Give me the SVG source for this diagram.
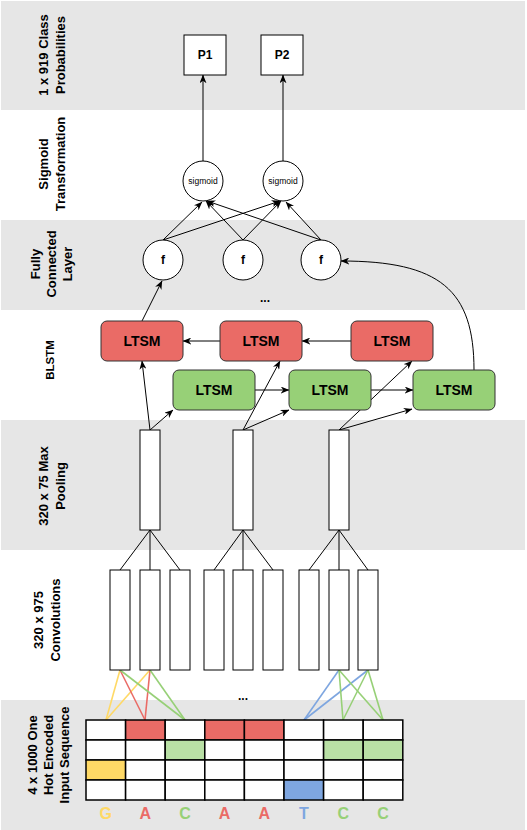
<svg xmlns="http://www.w3.org/2000/svg" width="527" height="830" viewBox="0 0 527 830">
<style>
text{font-family:"Liberation Sans",Arial,Helvetica,sans-serif;fill:#000}
.band{fill:#e6e6e6}
.lbl{font-size:13px;font-weight:bold;text-anchor:middle}
.box{fill:#fff;stroke:#000;stroke-width:1}
.red{fill:#ea6b66;stroke:#333;stroke-width:1}
.grn{fill:#97d077;stroke:#333;stroke-width:1}
.t14{font-size:14px;font-weight:bold;text-anchor:middle}
.t12{font-size:12px;font-weight:bold;text-anchor:middle}
.sg{font-size:8.5px;text-anchor:middle}
.ln{fill:none;stroke:#000;stroke-width:1}
.ar{fill:none;stroke:#000;stroke-width:1;marker-end:url(#arr)}
.cell{fill:#fff;stroke:#000;stroke-width:1.5}
.seq{font-size:16px;font-weight:bold;text-anchor:middle}
.cy{stroke:#ffd966}.cr{stroke:#ea6b66}.cg{stroke:#97d077}.cb{stroke:#7ea6e0}
.col{fill:none;stroke-width:1.6}
</style>
<defs>
<marker id="arr" viewBox="0 0 10 8" refX="9.5" refY="4" markerWidth="9" markerHeight="7" orient="auto" markerUnits="userSpaceOnUse">
<path d="M0,0 L10,4 L0,8 L3,4 Z" fill="#000"/>
</marker>
</defs>

<g id="bands">
<rect class="band" x="1" y="1" width="524" height="109"/>
<rect class="band" x="1" y="220" width="524" height="90"/>
<rect class="band" x="1" y="420" width="524" height="130"/>
<rect class="band" x="1" y="700" width="524" height="130"/>
</g>

<g id="labels">
<text class="lbl" transform="translate(0,55) rotate(-90)"><tspan x="0" y="48">1 x 919 Class</tspan><tspan x="0" y="65">Probabilities</tspan></text>
<text class="lbl" transform="translate(0,164) rotate(-90)"><tspan x="0" y="47.5">Sigmoid</tspan><tspan x="0" y="64.5">Transformation</tspan></text>
<text class="lbl" transform="translate(0,264) rotate(-90)"><tspan x="0" y="39.5">Fully</tspan><tspan x="0" y="55.5">Connected</tspan><tspan x="0" y="71.5">Layer</tspan></text>
<text class="lbl" transform="translate(0,360) rotate(-90)" style="font-size:11.5px"><tspan x="0" y="54">BLSTM</tspan></text>
<text class="lbl" transform="translate(0,486) rotate(-90)"><tspan x="0" y="48">320 x 75 Max</tspan><tspan x="0" y="64.5">Pooling</tspan></text>
<text class="lbl" transform="translate(0,620) rotate(-90)"><tspan x="0" y="43">320 x 975</tspan><tspan x="0" y="60">Convolutions</tspan></text>
<text class="lbl" transform="translate(0,755) rotate(-90)"><tspan x="0" y="37">4 x 1000 One</tspan><tspan x="0" y="53">Hot Encoded</tspan><tspan x="0" y="69">Input Sequence</tspan></text>
</g>

<g id="connectors">
<line class="ar" x1="203" y1="161" x2="203" y2="75"/>
<line class="ar" x1="283" y1="161" x2="283" y2="75"/>
<line class="ar" x1="163" y1="240" x2="202" y2="202"/>
<line class="ar" x1="163" y1="240" x2="280" y2="201"/>
<line class="ar" x1="243" y1="240" x2="206" y2="201"/>
<line class="ar" x1="243" y1="240" x2="281" y2="201"/>
<line class="ar" x1="321" y1="240" x2="207" y2="201"/>
<line class="ar" x1="321" y1="240" x2="286" y2="202"/>
<path class="ar" d="M474,370 C474,290 440,261 341,261"/>
<line class="ar" x1="142" y1="321" x2="162" y2="281"/>
<line class="ar" x1="220" y1="341" x2="183" y2="341"/>
<line class="ar" x1="351" y1="341" x2="302" y2="341"/>
<line class="ar" x1="255" y1="390" x2="289" y2="390"/>
<line class="ar" x1="371" y1="390" x2="413" y2="390"/>
<line class="ar" x1="150" y1="430" x2="142" y2="361"/>
<line class="ar" x1="150" y1="430" x2="173" y2="410"/>
<line class="ar" x1="243" y1="430" x2="280" y2="361"/>
<line class="ar" x1="243" y1="430" x2="289" y2="410"/>
<line class="ar" x1="339" y1="430" x2="412" y2="361"/>
<line class="ar" x1="339" y1="430" x2="412" y2="409"/>
<line class="ln" x1="150" y1="530" x2="120" y2="570"/>
<line class="ln" x1="150" y1="530" x2="150" y2="570"/>
<line class="ln" x1="150" y1="530" x2="180" y2="570"/>
<line class="ln" x1="243" y1="530" x2="214" y2="570"/>
<line class="ln" x1="243" y1="530" x2="243" y2="570"/>
<line class="ln" x1="243" y1="530" x2="273" y2="570"/>
<line class="ln" x1="339" y1="530" x2="309" y2="570"/>
<line class="ln" x1="339" y1="530" x2="339" y2="570"/>
<line class="ln" x1="339" y1="530" x2="368" y2="570"/>
<line class="col cy" x1="120" y1="670" x2="106" y2="720"/>
<line class="col cy" x1="150" y1="670" x2="106" y2="720"/>
<line class="col cr" x1="120" y1="670" x2="145" y2="720"/>
<line class="col cr" x1="150" y1="670" x2="145" y2="720"/>
<line class="col cg" x1="120" y1="670" x2="185" y2="720"/>
<line class="col cg" x1="150" y1="670" x2="185" y2="720"/>
<line class="col cb" x1="339" y1="670" x2="304" y2="720"/>
<line class="col cb" x1="368" y1="670" x2="304" y2="720"/>
<line class="col cg" x1="339" y1="670" x2="343" y2="720"/>
<line class="col cg" x1="368" y1="670" x2="343" y2="720"/>
<line class="col cg" x1="339" y1="670" x2="383" y2="720"/>
<line class="col cg" x1="368" y1="670" x2="383" y2="720"/>
</g>

<g id="P1"><rect class="box" x="184" y="35" width="42" height="40"/><text class="t12" x="205" y="59">P1</text></g>
<g id="P2"><rect class="box" x="261" y="35" width="42" height="40"/><text class="t12" x="282" y="59">P2</text></g>
<g id="sigmoid1"><circle class="box" cx="203" cy="181" r="20"/><text class="sg" x="203" y="184">sigmoid</text></g>
<g id="sigmoid2"><circle class="box" cx="283" cy="181" r="20"/><text class="sg" x="283" y="184">sigmoid</text></g>
<g id="f1"><circle class="box" cx="163" cy="260" r="20"/><text class="t12" x="163" y="264">f</text></g>
<g id="f2"><circle class="box" cx="243" cy="260" r="20"/><text class="t12" x="243" y="264">f</text></g>
<g id="f3"><circle class="box" cx="321" cy="260" r="20"/><text class="t12" x="321" y="264">f</text></g>
<g id="dots1"><text class="t12" x="265" y="302">...</text></g>

<g id="lstm-r1"><rect class="red" x="101" y="321" width="82" height="40" rx="6"/><text class="t14" x="142" y="346">LTSM</text></g>
<g id="lstm-r2"><rect class="red" x="220" y="321" width="82" height="40" rx="6"/><text class="t14" x="261" y="346">LTSM</text></g>
<g id="lstm-r3"><rect class="red" x="351" y="321" width="82" height="40" rx="6"/><text class="t14" x="392" y="346">LTSM</text></g>
<g id="lstm-g1"><rect class="grn" x="173" y="370" width="82" height="40" rx="6"/><text class="t14" x="214" y="395">LTSM</text></g>
<g id="lstm-g2"><rect class="grn" x="289" y="370" width="82" height="40" rx="6"/><text class="t14" x="330" y="395">LTSM</text></g>
<g id="lstm-g3"><rect class="grn" x="413" y="370" width="82" height="40" rx="6"/><text class="t14" x="454" y="395">LTSM</text></g>

<g id="pool1"><rect class="box" x="140" y="430" width="20" height="100"/></g>
<g id="pool2"><rect class="box" x="233" y="430" width="20" height="100"/></g>
<g id="pool3"><rect class="box" x="329" y="430" width="20" height="100"/></g>

<g id="conv1"><rect class="box" x="110" y="570" width="20" height="100"/></g>
<g id="conv2"><rect class="box" x="140" y="570" width="20" height="100"/></g>
<g id="conv3"><rect class="box" x="170" y="570" width="20" height="100"/></g>
<g id="conv4"><rect class="box" x="204" y="570" width="20" height="100"/></g>
<g id="conv5"><rect class="box" x="233" y="570" width="20" height="100"/></g>
<g id="conv6"><rect class="box" x="263" y="570" width="20" height="100"/></g>
<g id="conv7"><rect class="box" x="299" y="570" width="20" height="100"/></g>
<g id="conv8"><rect class="box" x="329" y="570" width="20" height="100"/></g>
<g id="conv9"><rect class="box" x="358" y="570" width="20" height="100"/></g>
<g id="dots2"><text class="t12" x="243" y="700">...</text></g>

<g id="grid">
<rect class="cell" x="86" y="720" width="39.6" height="20"/>
<rect class="cell" x="125.6" y="720" width="39.6" height="20" style="fill:#ea6b66"/>
<rect class="cell" x="165.2" y="720" width="39.6" height="20"/>
<rect class="cell" x="204.8" y="720" width="39.6" height="20" style="fill:#ea6b66"/>
<rect class="cell" x="244.4" y="720" width="39.6" height="20" style="fill:#ea6b66"/>
<rect class="cell" x="284" y="720" width="39.6" height="20"/>
<rect class="cell" x="323.6" y="720" width="39.6" height="20"/>
<rect class="cell" x="363.2" y="720" width="39.6" height="20"/>
<rect class="cell" x="86" y="740" width="39.6" height="20"/>
<rect class="cell" x="125.6" y="740" width="39.6" height="20"/>
<rect class="cell" x="165.2" y="740" width="39.6" height="20" style="fill:#b9e0a5"/>
<rect class="cell" x="204.8" y="740" width="39.6" height="20"/>
<rect class="cell" x="244.4" y="740" width="39.6" height="20"/>
<rect class="cell" x="284" y="740" width="39.6" height="20"/>
<rect class="cell" x="323.6" y="740" width="39.6" height="20" style="fill:#b9e0a5"/>
<rect class="cell" x="363.2" y="740" width="39.6" height="20" style="fill:#b9e0a5"/>
<rect class="cell" x="86" y="760" width="39.6" height="20" style="fill:#ffd966"/>
<rect class="cell" x="125.6" y="760" width="39.6" height="20"/>
<rect class="cell" x="165.2" y="760" width="39.6" height="20"/>
<rect class="cell" x="204.8" y="760" width="39.6" height="20"/>
<rect class="cell" x="244.4" y="760" width="39.6" height="20"/>
<rect class="cell" x="284" y="760" width="39.6" height="20"/>
<rect class="cell" x="323.6" y="760" width="39.6" height="20"/>
<rect class="cell" x="363.2" y="760" width="39.6" height="20"/>
<rect class="cell" x="86" y="780" width="39.6" height="20"/>
<rect class="cell" x="125.6" y="780" width="39.6" height="20"/>
<rect class="cell" x="165.2" y="780" width="39.6" height="20"/>
<rect class="cell" x="204.8" y="780" width="39.6" height="20"/>
<rect class="cell" x="244.4" y="780" width="39.6" height="20"/>
<rect class="cell" x="284" y="780" width="39.6" height="20" style="fill:#7ea6e0"/>
<rect class="cell" x="323.6" y="780" width="39.6" height="20"/>
<rect class="cell" x="363.2" y="780" width="39.6" height="20"/>
</g>

<g id="sequence">
<text class="seq" x="105.8" y="819" style="fill:#ffd966">G</text>
<text class="seq" x="145.4" y="819" style="fill:#ea6b66">A</text>
<text class="seq" x="185" y="819" style="fill:#97d077">C</text>
<text class="seq" x="224.6" y="819" style="fill:#ea6b66">A</text>
<text class="seq" x="264.2" y="819" style="fill:#ea6b66">A</text>
<text class="seq" x="303.8" y="819" style="fill:#7ea6e0">T</text>
<text class="seq" x="343.4" y="819" style="fill:#97d077">C</text>
<text class="seq" x="383" y="819" style="fill:#97d077">C</text>
</g>
</svg>
